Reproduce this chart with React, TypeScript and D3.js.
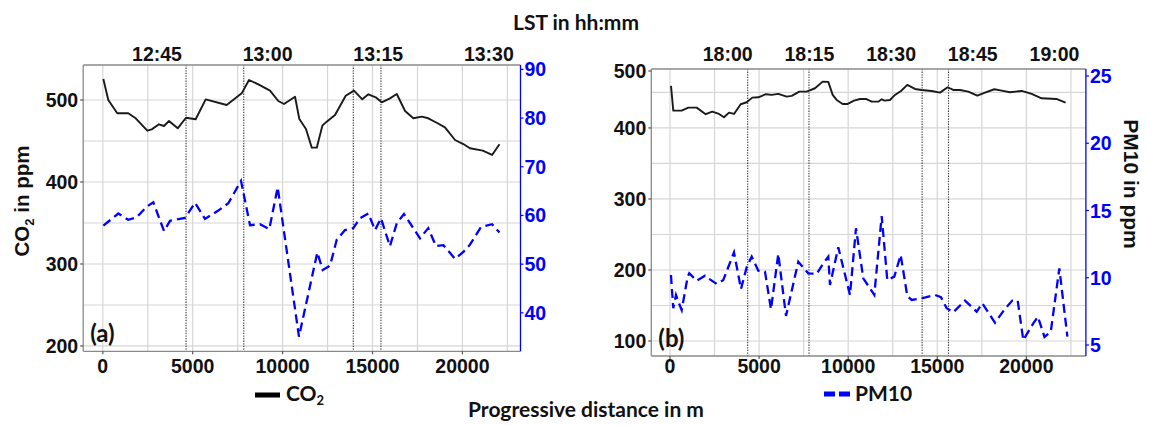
import React from "react";
import * as d3 from "d3";

// ---------- DATA ----------
const distTicks = [0, 5000, 10000, 15000, 20000];
const distGrid = [0, 2500, 5000, 7500, 10000, 12500, 15000, 17500, 20000, 22500];

// Panel (a)
const aCo2Dist = [30, 306, 806, 1418, 1830, 2475, 2720, 3126, 3404, 3682, 4166, 4627, 5165, 5723, 6890, 7725, 8131, 8650, 9300, 9760, 10078, 10690, 10930, 11300, 11620, 11900, 12210, 12450, 12915, 13510, 13970, 14430, 14770, 15180, 15510, 15970, 16350, 16810, 17270, 17740, 18100, 18570, 19030, 19590, 20050, 20420, 21130, 21650, 22060];
const aCo2 = [525.6, 500, 483.8, 483.8, 477.7, 462.6, 464.2, 470.4, 468.3, 474.4, 465.5, 478.4, 476.5, 500.8, 493.9, 508.1, 524.4, 519.1, 511.4, 498.8, 495.1, 504, 476.8, 464.6, 441.9, 441.9, 468.7, 473.6, 481.7, 505.2, 511.4, 500.8, 507, 503.3, 497.2, 502, 507.3, 486.6, 477.7, 479.7, 477.7, 472.3, 466.7, 451.2, 446.3, 441.1, 438.2, 433, 446];
const aPmDist = [30, 862, 1418, 1885, 2440, 2810, 3404, 3738, 4570, 5128, 5684, 6425, 6980, 7686, 8187, 8743, 9260, 9726, 10910, 11930, 12230, 12640, 13010, 13470, 13930, 14300, 14770, 15140, 15470, 15970, 16350, 16750, 17640, 18100, 18530, 18940, 19590, 20050, 20420, 21030, 21650, 22060];
const aPm10 = [57.9, 60.4, 59.1, 59.6, 61.8, 62.7, 56.8, 58.9, 59.5, 62.6, 59.3, 61, 62.5, 67.1, 58, 58.2, 57.2, 65.8, 35.1, 52.4, 48.8, 49.7, 55, 57, 57.4, 59.4, 60.4, 57, 59.4, 53.7, 58.4, 60.3, 55.3, 57.4, 53.7, 53.9, 51.1, 52.5, 54, 57.6, 58.2, 56.5];
const aStops = [4630, 7840, 13930, 15470];
const aTimeLabels = ["12:45", "13:00", "13:15", "13:30"];
const aTimeMinutes = [765, 780, 795, 810];
const aLeftTicks = [200, 300, 400, 500];
const aLeftGrid = [200, 250, 300, 350, 400, 450, 500];
const aRightTicks = [40, 50, 60, 70, 80, 90];

// Panel (b)
const bCo2Dist = [56, 185, 656, 1027, 1498, 2003, 2374, 2750, 3030, 3311, 3591, 3967, 4304, 4618, 4955, 5387, 5707, 6077, 6549, 6829, 7256, 7671, 8137, 8569, 8884, 9130, 9355, 9691, 9972, 10325, 10662, 10999, 11318, 11689, 11880, 12026, 12346, 12626, 12963, 13317, 13749, 14123, 14684, 15151, 15583, 15898, 16274, 16740, 17245, 17677, 18199, 18613, 19080, 19736, 20297, 20853, 21683, 22200];
const bCo2 = [459.2, 424.4, 424.4, 428.6, 428.6, 419.3, 423, 419.7, 415, 421.6, 419.7, 433.4, 436.2, 442.7, 443.2, 447.5, 446.5, 447.9, 444.1, 445.1, 451.2, 451.2, 455.9, 465.2, 464.8, 446.5, 439.4, 433.8, 433.8, 438.5, 440.8, 440.8, 437, 437, 440.4, 438.5, 439.4, 446.5, 452.1, 460.6, 454.9, 453.5, 452.1, 449.7, 457.3, 453.5, 453.5, 451.2, 445.5, 449.7, 454.5, 452.5, 450.3, 452.1, 447.9, 441.8, 440.8, 435.6];
const bPmDist = [56, 95, 185, 337, 505, 656, 993, 1083, 1498, 1964, 2150, 2620, 2991, 3591, 3984, 4304, 4585, 4955, 5331, 5668, 6077, 6510, 7200, 7761, 8232, 8603, 8884, 8979, 9444, 10101, 10438, 10847, 11465, 11880, 12194, 12587, 12946, 13317, 13563, 14123, 14871, 15207, 15527, 15898, 16554, 17211, 17526, 18238, 18799, 19209, 19512, 19826, 20387, 20645, 21015, 21370, 21850, 22300];
const bPm10 = [10.2, 9.39, 7.73, 8.72, 8.1, 7.6, 10.08, 10.33, 9.78, 10.15, 9.96, 9.54, 9.83, 11.89, 9.16, 10.78, 11.57, 10.52, 10.45, 7.65, 11.77, 7.16, 11.19, 10.33, 10.28, 11.07, 11.57, 9.46, 12.26, 8.72, 13.68, 9.96, 8.72, 14.59, 9.83, 10.08, 11.69, 8.64, 8.35, 8.47, 8.72, 8.55, 7.73, 7.43, 8.3, 7.48, 8.1, 6.66, 7.68, 8.3, 8.3, 5.37, 6.61, 7.1, 5.6, 6.0, 10.7, 5.62];
const bStops = [4360, 7800, 14150, 15630];
const bTimeLabels = ["18:00", "18:15", "18:30", "18:45", "19:00"];
const bTimeMinutes = [1080, 1095, 1110, 1125, 1140];
const bLeftTicks = [100, 200, 300, 400, 500];
const bLeftGrid = [100, 150, 200, 250, 300, 350, 400, 450];
const bRightTicks = [5, 10, 15, 20, 25];

const BLUE = "#0000ff";
const TICK_FONT = "'Liberation Sans', Arial, sans-serif";
const TITLE_FONT = "Lato, 'Open Sans', sans-serif";

type PanelProps = {
  box: { x0: number; x1: number; y0: number; y1: number };
  xDomain: [number, number];
  yLDomain: [number, number];
  yRDomain: [number, number];
  co2Dist: number[];
  co2: number[];
  pmDist: number[];
  pm: number[];
  stops: number[];
  timeLabels: string[];
  timeMinutes: number[];
  timeDist: [number, number];
  leftTicks: number[];
  leftGrid: number[];
  rightTicks: number[];
  tag: string;
};

function Panel(p: PanelProps) {
  const { box } = p;
  const x = d3.scaleLinear().domain(p.xDomain).range([box.x0, box.x1]);
  const yL = d3.scaleLinear().domain(p.yLDomain).range([box.y1, box.y0]);
  const yR = d3.scaleLinear().domain(p.yRDomain).range([box.y1, box.y0]);
  const t = d3
    .scaleLinear()
    .domain([p.timeMinutes[0], p.timeMinutes[p.timeMinutes.length - 1]])
    .range(p.timeDist);
  const co2Line = d3
    .line<number>()
    .x((_, i) => x(p.co2Dist[i]))
    .y((v) => yL(v));
  const pmLine = d3
    .line<number>()
    .x((_, i) => x(p.pmDist[i]))
    .y((v) => yR(v));
  const grid = "#d6d6d6";
  return (
    <g>
      <rect x={box.x0} y={box.y0} width={box.x1 - box.x0} height={box.y1 - box.y0} fill="#fff" />
      {distGrid.map((d) => (
        <line key={"vg" + d} x1={x(d)} x2={x(d)} y1={box.y0} y2={box.y1} stroke={grid} strokeWidth={1.2} />
      ))}
      {p.leftGrid
        .filter((v) => yL(v) > box.y0 && yL(v) < box.y1)
        .map((v) => (
          <line key={"hg" + v} x1={box.x0} x2={box.x1} y1={yL(v)} y2={yL(v)} stroke={grid} strokeWidth={1.2} />
        ))}
      {p.stops.map((d) => (
        <line key={"st" + d} x1={x(d)} x2={x(d)} y1={box.y0} y2={box.y1} stroke="#333" strokeWidth={1.1} strokeDasharray="1.3,1.3" />
      ))}
      <path d={pmLine(p.pm) || ""} fill="none" stroke={BLUE} strokeWidth={2.3} strokeDasharray="9,5" />
      <path d={co2Line(p.co2) || ""} fill="none" stroke="#1a1a1a" strokeWidth={1.9} strokeLinejoin="round" />
      {/* frame */}
      <line x1={box.x0} x2={box.x1} y1={box.y0} y2={box.y0} stroke="#8a8a8a" strokeWidth={1.3} />
      <line x1={box.x0} x2={box.x1} y1={box.y1} y2={box.y1} stroke="#8a8a8a" strokeWidth={1.3} />
      <line x1={box.x0} x2={box.x0} y1={box.y0} y2={box.y1} stroke="#8a8a8a" strokeWidth={1.3} />
      <line x1={box.x1} x2={box.x1} y1={box.y0} y2={box.y1} stroke={BLUE} strokeWidth={1.3} />
      {/* left axis */}
      {p.leftTicks.map((v) => {
        const yy = Math.max(yL(v), box.y0 + 2);
        return (
          <g key={"lt" + v}>
            <line x1={box.x0 - 3} x2={box.x0} y1={yy} y2={yy} stroke="#555" strokeWidth={1.2} />
            <text x={box.x0 - 5} y={yy} dy="0.36em" textAnchor="end" fontFamily={TICK_FONT} fontWeight="bold" fontSize={19.5} fill="#111">
              {v}
            </text>
          </g>
        );
      })}
      {/* right axis */}
      {p.rightTicks.map((v) => (
        <g key={"rt" + v}>
          <line x1={box.x1} x2={box.x1 + 3} y1={yR(v)} y2={yR(v)} stroke={BLUE} strokeWidth={1.2} />
          <text x={box.x1 + 4} y={yR(v)} dy="0.36em" fontFamily={TICK_FONT} fontWeight="bold" fontSize={19.5} fill={BLUE}>
            {v}
          </text>
        </g>
      ))}
      {/* bottom axis */}
      {distTicks.map((d) => (
        <g key={"bt" + d}>
          <line x1={x(d)} x2={x(d)} y1={box.y1} y2={box.y1 + 3} stroke="#555" strokeWidth={1.2} />
          <text x={x(d)} y={373} textAnchor="middle" fontFamily={TICK_FONT} fontWeight="bold" fontSize={19.5} fill="#111">
            {d}
          </text>
        </g>
      ))}
      {/* top time axis */}
      {p.timeLabels.map((lab, i) => (
        <text key={"tt" + lab} x={x(t(p.timeMinutes[i]))} y={61} textAnchor="middle" fontFamily={TICK_FONT} fontWeight="bold" fontSize={19.5} fill="#111">
          {lab}
        </text>
      ))}
      <text x={box.x0 + 7} y={box.y1 - 18} dy="0.36em" fontFamily={TITLE_FONT} fontWeight="bold" fontSize={24} fill="#111">
        {p.tag}
      </text>
    </g>
  );
}

export default function App() {
  return (
    <svg width={1159} height={425} style={{ position: "absolute", left: 0, top: 0, background: "#fff" }}>
      <rect width={1159} height={425} fill="#fff" />
      <Panel
        box={{ x0: 83.2, x1: 520.5, y0: 65, y1: 351.3 }}
        xDomain={[-1090, 23230]}
        yLDomain={[193.5, 542.7]}
        yRDomain={[32.1, 90.9]}
        co2Dist={aCo2Dist}
        co2={aCo2}
        pmDist={aPmDist}
        pm={aPm10}
        stops={aStops}
        timeLabels={aTimeLabels}
        timeMinutes={aTimeMinutes}
        timeDist={[3014, 21470]}
        leftTicks={aLeftTicks}
        leftGrid={aLeftGrid}
        rightTicks={aRightTicks}
        tag="(a)"
      />
      <Panel
        box={{ x0: 651.3, x1: 1085.9, y0: 69, y1: 356 }}
        xDomain={[-1049, 23340]}
        yLDomain={[78.9, 483]}
        yRDomain={[4.18, 25.52]}
        co2Dist={bCo2Dist}
        co2={bCo2}
        pmDist={bPmDist}
        pm={bPm10}
        stops={bStops}
        timeLabels={bTimeLabels}
        timeMinutes={bTimeMinutes}
        timeDist={[3238, 21577]}
        leftTicks={bLeftTicks}
        leftGrid={bLeftGrid}
        rightTicks={bRightTicks}
        tag="(b)"
      />
      {/* titles */}
      <text x={576} y={30} textAnchor="middle" fontFamily={TITLE_FONT} fontWeight="bold" fontSize={21} fill="#111">
        LST in hh:mm
      </text>
      <text x={586} y={417} textAnchor="middle" fontFamily={TITLE_FONT} fontWeight="bold" fontSize={21} fill="#111">
        Progressive distance in m
      </text>
      <text transform="translate(29,201) rotate(-90)" textAnchor="middle" fontFamily={TICK_FONT} fontWeight="bold" fontSize={20.5} fill="#111">
        CO<tspan fontSize={13} dy={5}>2</tspan>
        <tspan dy={-5}> in ppm</tspan>
      </text>
      <text transform="translate(1124,184) rotate(90)" textAnchor="middle" fontFamily={TICK_FONT} fontWeight="bold" fontSize={21} fill="#111">
        PM10 in ppm
      </text>
      {/* legend */}
      <line x1={255} x2={280} y1={395} y2={395} stroke="#000" strokeWidth={5} />
      <text x={286} y={401} fontFamily={TITLE_FONT} fontWeight="bold" fontSize={21} fill="#111">
        CO<tspan fontSize={13} dy={4}>2</tspan>
      </text>
      <line x1={824} x2={851} y1={394} y2={394} stroke={BLUE} strokeWidth={5} strokeDasharray="11,4" />
      <text x={855} y={401} fontFamily={TITLE_FONT} fontWeight="bold" fontSize={21} fill="#111">
        PM10
      </text>
    </svg>
  );
}
